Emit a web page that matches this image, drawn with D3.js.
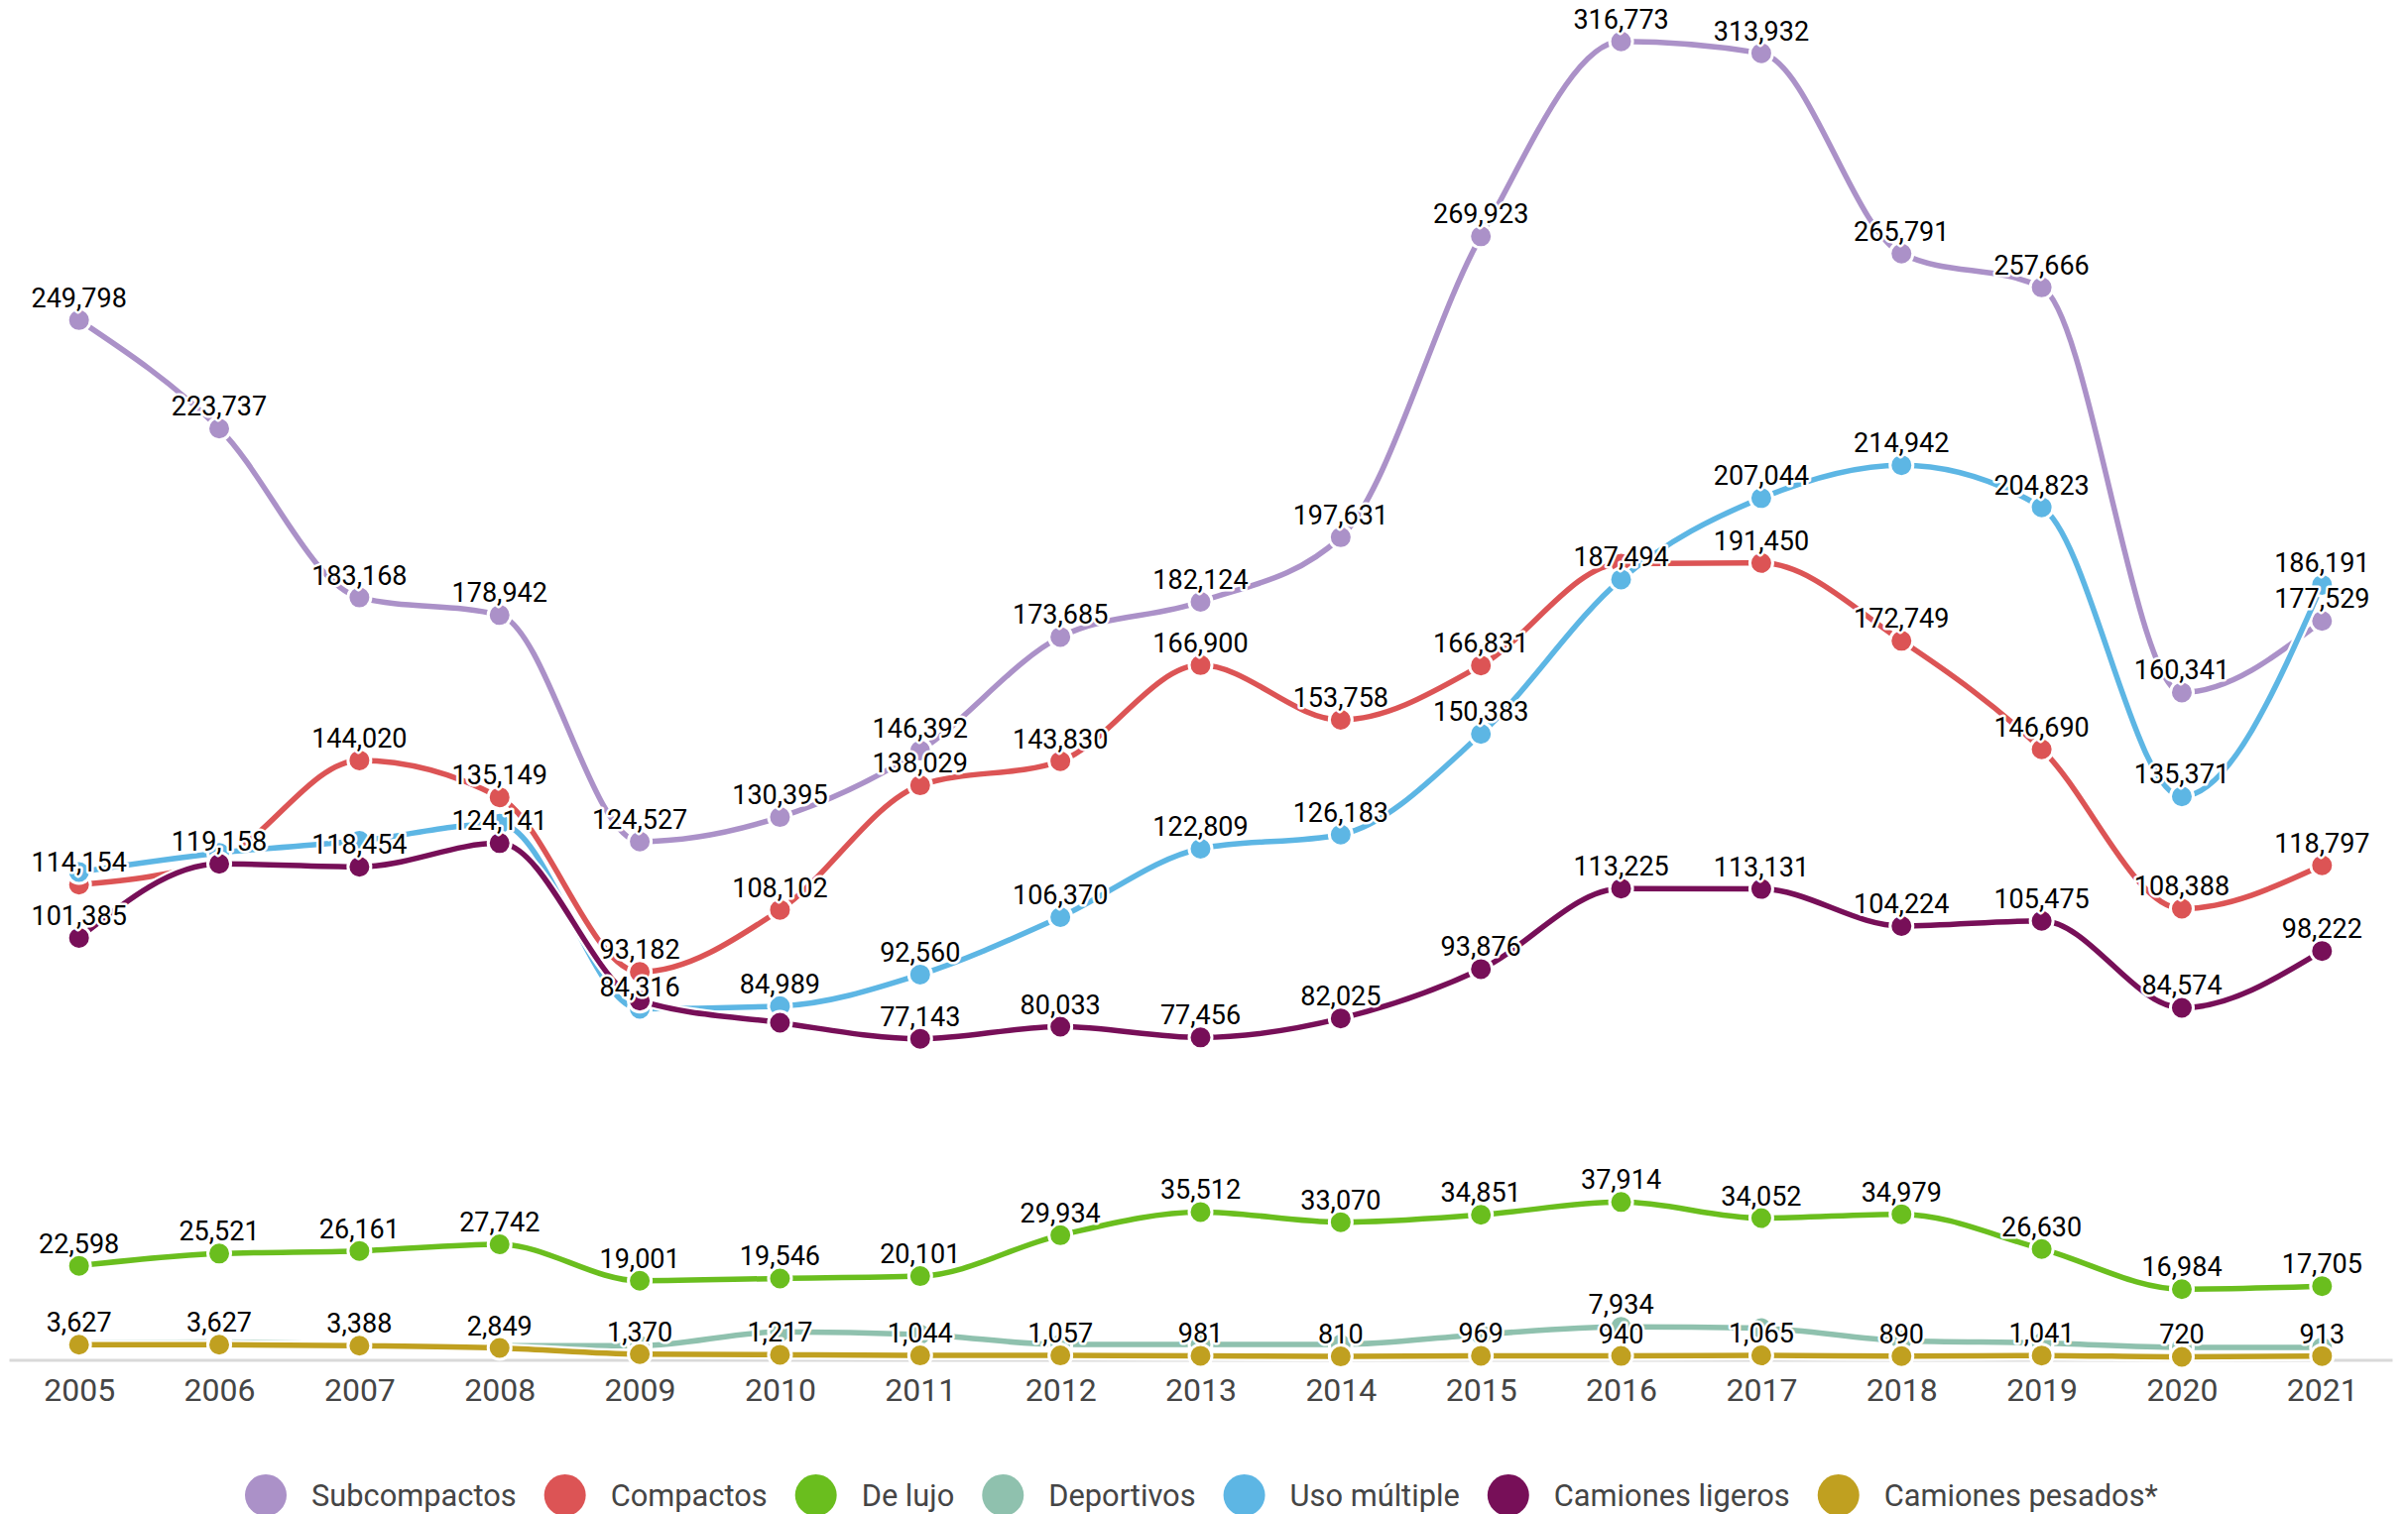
<!DOCTYPE html>
<html>
<head>
<meta charset="utf-8">
<script src="https://cdn.jsdelivr.net/npm/d3@7"></script>
<style>
  html, body { margin: 0; padding: 0; background: #fff; }
  svg { display: block; font-family: Roboto, "Noto Sans", sans-serif; }
</style>
</head>
<body>
<svg id="chart" width="2428" height="1527"></svg>
<script>
// ---- Data ----
const years = ["2005","2006","2007","2008","2009","2010","2011","2012","2013","2014","2015","2016","2017","2018","2019","2020","2021"];

const seriesNames = ["Subcompactos","Compactos","De lujo","Deportivos","Uso múltiple","Camiones ligeros","Camiones pesados*"];
const seriesColors = ["#ab91c8","#dc5455","#6abe1e","#8fc1ae","#5db6e4","#770f58","#c0a020"];

const subcompactos    = [249798,223737,183168,178942,124527,130395,146392,173685,182124,197631,269923,316773,313932,265791,257666,160341,177529];
const compactos       = [114154,120300,144020,135149,93182,108102,138029,143830,166900,153758,166831,191300,191450,172749,146690,108388,118797];
const deLujo          = [22598,25521,26161,27742,19001,19546,20101,29934,35512,33070,34851,37914,34052,34979,26630,16984,17705];
const deportivos      = [4100,4300,3700,3400,3400,6700,6100,3700,3700,3700,6100,7934,7600,4600,4050,3000,3000];
const usoMultiple     = [117200,121800,124700,128800,84316,84989,92560,106370,122809,126183,150383,187494,207044,214942,204823,135371,186191];
const camionesLigeros = [101385,119158,118454,124141,86300,81000,77143,80033,77456,82025,93876,113225,113131,104224,105475,84574,98222];
const camionesPesados = [3627,3627,3388,2849,1370,1217,1044,1057,981,810,969,940,1065,890,1041,720,913];

// Years whose value label is not displayed (hidden in the original because of overlap)
const unlabeledCompactos = ["2006","2016"];
const unlabeledUsoMultiple = ["2005","2006","2007","2008"];
const unlabeledCamionesLigeros = ["2009","2010"];
const unlabeledDeportivos = years.filter(y => y !== "2016");

const seriesValues = [subcompactos, compactos, deLujo, deportivos, usoMultiple, camionesLigeros, camionesPesados];
const seriesUnlabeled = [[], unlabeledCompactos, [], unlabeledDeportivos, unlabeledUsoMultiple, unlabeledCamionesLigeros, []];

// ---- Layout ----
const svg = d3.select("#chart");
const baseY = 1371.5;
const x = d3.scalePoint().domain(years).range([9, 2412]).padding(0.5);
const y = d3.scaleLinear().domain([0, 316773]).range([baseY, 41.7]);
const fmt = d3.format(",");

// Axis
const axis = svg.append("g")
  .attr("transform", `translate(0,${baseY})`)
  .call(d3.axisBottom(x).tickSize(0).tickSizeOuter(0).tickPadding(19));
axis.select(".domain").attr("stroke", "#d9d9d9").attr("stroke-width", 3);
axis.selectAll(".tick text")
  .attr("font-size", 32)
  .attr("fill", "#454545")
  .attr("font-family", "Roboto, sans-serif");

const line = d3.line()
  .x((d, i) => x(years[i]))
  .y(d => y(d))
  .curve(d3.curveMonotoneX);

const series = seriesNames.map((name, k) => ({
  name, color: seriesColors[k], values: seriesValues[k], unlabeled: seriesUnlabeled[k]
}));

const marks = svg.append("g");
series.forEach(s => {
  const g = marks.append("g");
  g.append("path").attr("d", line(s.values))
    .attr("fill", "none").attr("stroke", "#fff").attr("stroke-width", 10)
    .attr("stroke-linejoin", "round").attr("stroke-linecap", "round");
  g.append("path").attr("d", line(s.values))
    .attr("fill", "none").attr("stroke", s.color).attr("stroke-width", 5.5)
    .attr("stroke-linejoin", "round").attr("stroke-linecap", "round");
  g.selectAll("circle").data(s.values).join("circle")
    .attr("cx", (d, i) => x(years[i]))
    .attr("cy", d => y(d))
    .attr("r", 11.5)
    .attr("fill", s.color)
    .attr("stroke", "#fff")
    .attr("stroke-width", 3);
});

// Value labels
const labels = svg.append("g")
  .attr("font-size", 27)
  .attr("text-anchor", "middle")
  .attr("font-family", "Roboto, sans-serif");
series.forEach(s => {
  s.values.forEach((v, i) => {
    if (s.unlabeled.includes(years[i])) return;
    labels.append("text")
      .attr("x", x(years[i]))
      .attr("y", y(v) - 13)
      .attr("fill", "#000")
      .attr("stroke", "#fff")
      .attr("stroke-width", 5)
      .attr("stroke-linejoin", "round")
      .attr("paint-order", "stroke")
      .text(fmt(v));
  });
});

// Legend
const legend = svg.append("g").attr("font-size", 30.8).attr("font-family", "Roboto, sans-serif");
let lx = 268;
const ly = 1508;
series.forEach(s => {
  legend.append("circle").attr("cx", lx).attr("cy", ly).attr("r", 21).attr("fill", s.color);
  const t = legend.append("text").attr("x", lx + 46).attr("y", ly + 11)
    .attr("fill", "#454545").text(s.name);
  const w = t.node().getComputedTextLength();
  lx = lx + 46 + w + 49;
});
</script>
</body>
</html>
